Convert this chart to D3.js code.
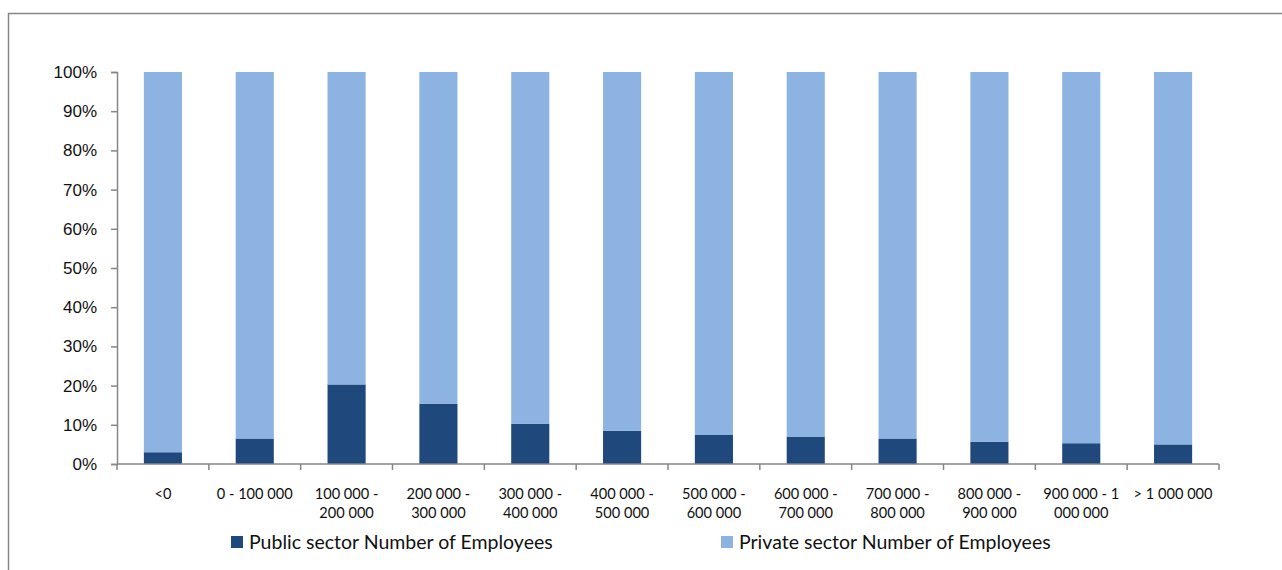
<!DOCTYPE html>
<html>
<head>
<meta charset="utf-8">
<script src="https://cdn.jsdelivr.net/npm/d3@7"></script>
<style>
  body { margin: 0; background: #fff; }
  svg { display: block; font-family: Lato, "Open Sans", sans-serif; }
</style>
</head>
<body>
<div id="chart"></div>
<script>
const categories = ['<0', '0 - 100 000', '100 000 - 200 000', '200 000 - 300 000', '300 000 - 400 000',
  '400 000 - 500 000', '500 000 - 600 000', '600 000 - 700 000', '700 000 - 800 000',
  '800 000 - 900 000', '900 000 - 1 000 000', '> 1 000 000'];
// how each tick label wraps
const categoryLines = [['<0'], ['0 - 100 000'], ['100 000 -', '200 000'], ['200 000 -', '300 000'],
  ['300 000 -', '400 000'], ['400 000 -', '500 000'], ['500 000 -', '600 000'], ['600 000 -', '700 000'],
  ['700 000 -', '800 000'], ['800 000 -', '900 000'], ['900 000 - 1', '000 000'], ['> 1 000 000']];
const publicShare = [3.0, 6.5, 20.3, 15.4, 10.3, 8.5, 7.4, 7.0, 6.5, 5.7, 5.3, 5.0];
const privateShare = publicShare.map(v => 100 - v);
const seriesNames = ['Public sector Number of Employees', 'Private sector Number of Employees'];
const seriesColors = ['#1F497D', '#8DB3E2'];
const yTicks = [0, 10, 20, 30, 40, 50, 60, 70, 80, 90, 100];

const width = 1282;
const height = 570;
const plot = { left: 117, right: 1219, top: 72, bottom: 464 };
const axisColor = '#868686';

const svg = d3.select('#chart').append('svg')
  .attr('width', width)
  .attr('height', height);

// chart frame
svg.append('rect')
  .attr('x', 8.5)
  .attr('y', 13.5)
  .attr('width', width)
  .attr('height', height)
  .style('fill', 'none')
  .style('stroke', axisColor)
  .style('stroke-width', 1.5);

const x = d3.scaleBand()
  .domain(categories)
  .range([plot.left, plot.right])
  .paddingInner(0.585)
  .paddingOuter(0.2925);

const y = d3.scaleLinear()
  .domain([0, 100])
  .range([plot.bottom, plot.top]);

const stacked = d3.stack().keys([0, 1])(categories.map((c, i) => ({ cat: c, 0: publicShare[i], 1: privateShare[i] })));

svg.append('g').selectAll('g')
  .data(stacked)
  .join('g')
  .style('fill', (d, i) => seriesColors[i])
  .selectAll('rect')
  .data(d => d)
  .join('rect')
  .attr('x', d => x(d.data.cat))
  .attr('width', x.bandwidth())
  .attr('y', d => y(d[1]))
  .attr('height', d => y(d[0]) - y(d[1]));

// y axis
const yAxis = svg.append('g')
  .attr('transform', `translate(${plot.left},0)`)
  .call(d3.axisLeft(y).tickValues(yTicks).tickSize(6).tickPadding(14).tickFormat(d => d + '%'));
yAxis.selectAll('text')
  .style('font-size', '17px')
  .style('fill', '#111');

// x axis, ticks at category boundaries
const boundaries = d3.range(categories.length + 1).map(i => plot.left + i * (plot.right - plot.left) / categories.length);
const xAxis = svg.append('g');
xAxis.append('line')
  .attr('x1', plot.left)
  .attr('x2', plot.right)
  .attr('y1', plot.bottom)
  .attr('y2', plot.bottom);
xAxis.selectAll('.tick')
  .data(boundaries)
  .join('line')
  .attr('class', 'tick')
  .attr('x1', d => d)
  .attr('x2', d => d)
  .attr('y1', plot.bottom)
  .attr('y2', plot.bottom + 6);
yAxis.selectAll('line, path').style('stroke', axisColor).style('stroke-width', 1.5);
xAxis.selectAll('line').style('stroke', axisColor).style('stroke-width', 1.5);

svg.append('g').selectAll('text')
  .data(categories)
  .join('text')
  .attr('x', d => x(d) + x.bandwidth() / 2)
  .attr('y', 499)
  .style('text-anchor', 'middle')
  .style('font-size', '14.6px')
  .style('fill', '#111')
  .selectAll('tspan')
  .data((d, i) => categoryLines[i])
  .join('tspan')
  .attr('x', function () { return this.parentNode.getAttribute('x'); })
  .attr('dy', (d, i) => i === 0 ? 0 : 19)
  .text(d => d);

// legend
const legendX = [231, 721];
const legend = svg.append('g').selectAll('g')
  .data(seriesNames)
  .join('g')
  .attr('transform', (d, i) => `translate(${legendX[i]},536)`);
legend.append('rect')
  .attr('width', 12)
  .attr('height', 12)
  .style('fill', (d, i) => seriesColors[i]);
legend.append('text')
  .attr('x', 18)
  .attr('y', 13)
  .style('font-size', '19.5px')
  .style('fill', '#111')
  .text(d => d);
</script>
</body>
</html>
